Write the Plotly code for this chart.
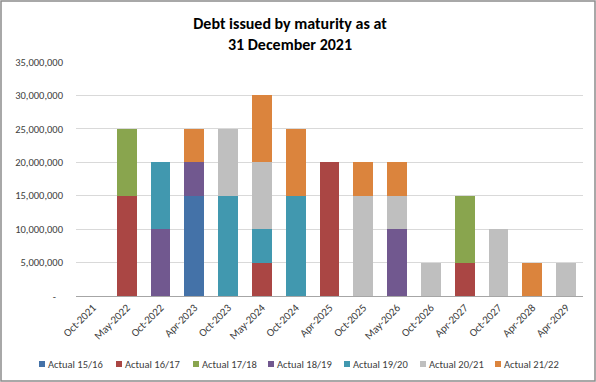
import plotly.graph_objects as go

categories = ["Oct-2021", "May-2022", "Oct-2022", "Apr-2023", "Oct-2023", "May-2024", "Oct-2024",
              "Apr-2025", "Oct-2025", "May-2026", "Oct-2026", "Apr-2027", "Oct-2027", "Apr-2028", "Apr-2029"]

actual_15_16 = [0, 0, 0, 15e6, 0, 0, 0, 0, 0, 0, 0, 0, 0, 0, 0]
actual_16_17 = [0, 15e6, 0, 0, 0, 5e6, 0, 20e6, 0, 0, 0, 5e6, 0, 0, 0]
actual_17_18 = [0, 10e6, 0, 0, 0, 0, 0, 0, 0, 0, 0, 10e6, 0, 0, 0]
actual_18_19 = [0, 0, 10e6, 5e6, 0, 0, 0, 0, 0, 10e6, 0, 0, 0, 0, 0]
actual_19_20 = [0, 0, 10e6, 0, 15e6, 5e6, 15e6, 0, 0, 0, 0, 0, 0, 0, 0]
actual_20_21 = [0, 0, 0, 0, 10e6, 10e6, 0, 0, 15e6, 5e6, 5e6, 0, 10e6, 0, 5e6]
actual_21_22 = [0, 0, 0, 5e6, 0, 10e6, 10e6, 0, 5e6, 5e6, 0, 0, 0, 5e6, 0]

series_names = ["Actual 15/16", "Actual 16/17", "Actual 17/18", "Actual 18/19",
                "Actual 19/20", "Actual 20/21", "Actual 21/22"]
series_values = [actual_15_16, actual_16_17, actual_17_18, actual_18_19,
                 actual_19_20, actual_20_21, actual_21_22]
series_colors = ["#4472A8", "#AA4644", "#89A54E", "#71588F", "#4198AF", "#BFBFBF", "#DB843D"]

y_tick_vals = [0, 5e6, 10e6, 15e6, 20e6, 25e6, 30e6, 35e6]
y_tick_text = ["-\u00a0\u00a0\u00a0", "5,000,000", "10,000,000", "15,000,000", "20,000,000",
               "25,000,000", "30,000,000", "35,000,000"]

FONT = "Calibri, Carlito, Lato, sans-serif"
TXT = "#404040"

fig = go.Figure()
for name, vals, color in zip(series_names, series_values, series_colors):
    fig.add_trace(go.Bar(x=categories, y=vals, name=name, showlegend=False,
                         marker=dict(color=color, line=dict(width=0))))

W, H = 596, 382
L, R, T, B = 76, 13, 62, 86
pw, ph = W - L - R, H - T - B

def px_x(x):
    return (x - L) / pw

def px_y(y):
    return (H - B - y) / ph

# custom one-row legend (Excel style small squares)
legend_left = [39, 116, 193, 268, 344, 420, 495]
legend_y = 364
shapes = [dict(type="rect", xref="paper", yref="paper",
               x0=px_x(1), x1=px_x(595), y0=px_y(381), y1=px_y(1),
               line=dict(color="#8C8C8C", width=1.5), fillcolor="rgba(0,0,0,0)", layer="above")]
annotations = []
for lx, name, color in zip(legend_left, series_names, series_colors):
    shapes.append(dict(type="rect", xref="paper", yref="paper",
                       x0=px_x(lx), x1=px_x(lx + 6), y0=px_y(legend_y + 3), y1=px_y(legend_y - 3),
                       line=dict(width=0), fillcolor=color))
    annotations.append(dict(text=name, xref="paper", yref="paper", x=px_x(lx + 7), y=px_y(legend_y),
                            xanchor="left", yanchor="middle", showarrow=False,
                            font=dict(family=FONT, size=10.5, color=TXT)))

fig.update_layout(
    width=W, height=H,
    margin=dict(l=L, r=R, t=T, b=B, autoexpand=False),
    barmode="stack", bargap=0.41,
    paper_bgcolor="white", plot_bgcolor="white",
    font=dict(family=FONT, size=11, color=TXT),
    title=dict(text="<b>Debt issued by maturity as at<br>31 December 2021</b>",
               x=px_x(290), xref="paper", xanchor="center", y=1 - 29 / H, yanchor="middle",
               font=dict(family=FONT, size=16, color="black")),
    xaxis=dict(type="category", tickangle=-45, showgrid=False, showline=True, automargin=False,
               linecolor="#A6A6A6", linewidth=1, ticks="", tickfont=dict(size=11, color=TXT)),
    yaxis=dict(range=[0, 35e6], tickvals=y_tick_vals, ticktext=y_tick_text, automargin=False,
               showgrid=True, gridcolor="#D9D9D9", gridwidth=1, zeroline=False,
               showline=False, ticks="", ticklabelstandoff=12, tickfont=dict(size=10.5, color=TXT)),
    showlegend=False,
    shapes=shapes,
    annotations=annotations,
)

fig.write_html("out.html", config={"displayModeBar": False},
               post_script="document.body.style.margin='0px';")
